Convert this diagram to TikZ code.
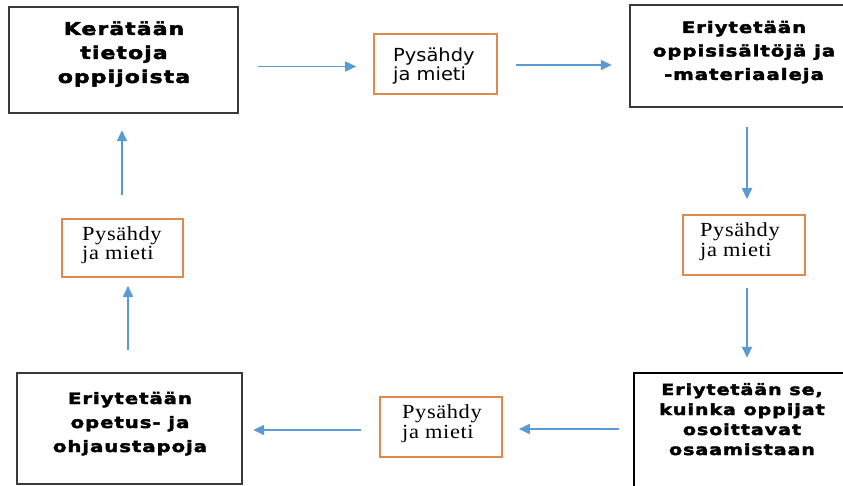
\documentclass[tikz,border=0pt]{standalone}
\usepackage{fontspec}
\usetikzlibrary{arrows.meta}
\newfontfamily\heavyfont{DejaVu Sans}[FakeStretch=1.25,LetterSpace=6,FakeBold=2.5]
\newfontfamily\pserif{Liberation Serif}[FakeStretch=1.12,LetterSpace=3]
\newfontfamily\psans{DejaVu Sans}[FakeStretch=1.08]
\definecolor{stoporange}{HTML}{DE8A4E}
\definecolor{flowblue}{HTML}{5B9BD5}
\definecolor{boxgray}{HTML}{3A3A3A}
% multi-line text whose reference point is the first baseline
\newcommand\toplines[2]{\begin{tabular}[t]{@{}#1@{}}#2\end{tabular}}
\begin{document}
\begin{tikzpicture}[x=1pt,y=-1pt,
  stepbox/.style={draw=boxgray,line width=1.3pt,fill=white},
  stopbox/.style={draw=stoporange,line width=1.6pt,fill=white},
  heavytxt/.style={anchor=base,inner sep=0pt,font=\heavyfont\bfseries},
  stoptxt/.style={anchor=base west,inner sep=0pt},
  arr/.style={flowblue,line width=1.7pt,-{Triangle[length=11pt,width=10pt]}}]
\useasboundingbox (0,0) rectangle (843,486);
\begin{scope}
\clip (0,0) rectangle (843,486);
% step boxes
\draw[stepbox] (9,7) rectangle (238,113);
\node[inner sep=0pt,minimum width=229pt,minimum height=106pt] (b1) at (123.5,60) {};
\draw[stepbox] (630,5) rectangle (852,107);
\node[inner sep=0pt,minimum width=222pt,minimum height=102pt] (b2) at (741,56) {};
\draw[draw=black,line width=2.4pt] (634,373) rectangle (852,497);
\node[inner sep=0pt,minimum width=218pt,minimum height=124pt] (b3) at (743,435) {};
\draw[stepbox] (17,373) rectangle (242,484);
\node[inner sep=0pt,minimum width=225pt,minimum height=111pt] (b4) at (129.5,428.5) {};
% step texts
\node[heavytxt] (t1) at (124,35) {\fontsize{17.6}{24}\selectfont\toplines{c}{Kerätään\\tietoja\\oppijoista}};
\node[heavytxt] (t2) at (744,33) {\fontsize{15.8}{23.5}\selectfont\toplines{c}{Eriytetään\\oppisisältöjä ja\\-materiaaleja}};
\node[heavytxt] (t3) at (742,395) {\fontsize{15.3}{20}\selectfont\toplines{c}{Eriytetään se,\\kuinka oppijat\\osoittavat\\osaamistaan}};
\node[heavytxt] (t4) at (130,404) {\fontsize{15.75}{24}\selectfont\toplines{c}{Eriytetään\\opetus- ja\\ohjaustapoja}};
% pause boxes
\node[stopbox,minimum width=123pt,minimum height=60pt] (o1) at (435.5,64) {};
\node[stopbox,minimum width=122pt,minimum height=60pt] (o2) at (744,245) {};
\node[stopbox,minimum width=122pt,minimum height=60pt] (o3) at (441,427) {};
\node[stopbox,minimum width=121pt,minimum height=58pt] (o4) at (122.5,248) {};
\node[stoptxt] (s1) at (393,61.7) {\psans\fontsize{18}{18}\selectfont\toplines{l}{Pysähdy\\ja mieti}};
\node[stoptxt] (s2) at (700,237) {\pserif\fontsize{20}{20}\selectfont\toplines{l}{Pysähdy\\ja mieti}};
\node[stoptxt] (s3) at (402,418) {\pserif\fontsize{20}{20}\selectfont\toplines{l}{Pysähdy\\ja mieti}};
\node[stoptxt] (s4) at (82,241) {\pserif\fontsize{20}{18}\selectfont\toplines{l}{Pysähdy\\ja mieti}};
% connectors
\draw[arr,shorten <=20pt,shorten >=17pt] ([yshift=-6.5pt]b1.east) -- ([yshift=-6.5pt]b1.east -| o1.west);
\draw[arr,shorten <=18pt,shorten >=18pt] ([yshift=-1pt]o1.east) -- ([yshift=-1pt]o1.east -| b2.west);
\draw[arr,shorten <=20pt,shorten >=15pt] ([xshift=3pt]o2.north |- b2.south) -- ([xshift=3pt]o2.north);
\draw[arr,shorten <=12pt,shorten >=15pt] ([xshift=3pt]o2.south) -- ([xshift=3pt]o2.south |- b3.north);
\draw[arr,shorten <=15pt,shorten >=16pt] ([yshift=-2pt]o3.east -| b3.west) -- ([yshift=-2pt]o3.east);
\draw[arr,shorten <=18pt,shorten >=11pt] ([yshift=-3pt]o3.west) -- ([yshift=-3pt]o3.west -| b4.east);
\draw[arr,shorten <=23pt,shorten >=8pt] ([xshift=-1.5pt]b4.north) -- ([xshift=-1.5pt]b4.north |- o4.south);
\draw[arr,shorten <=23pt,shorten >=17pt] ([xshift=-0.5pt]o4.north) -- ([xshift=-0.5pt]o4.north |- b1.south);
\end{scope}
\end{tikzpicture}
\end{document}
